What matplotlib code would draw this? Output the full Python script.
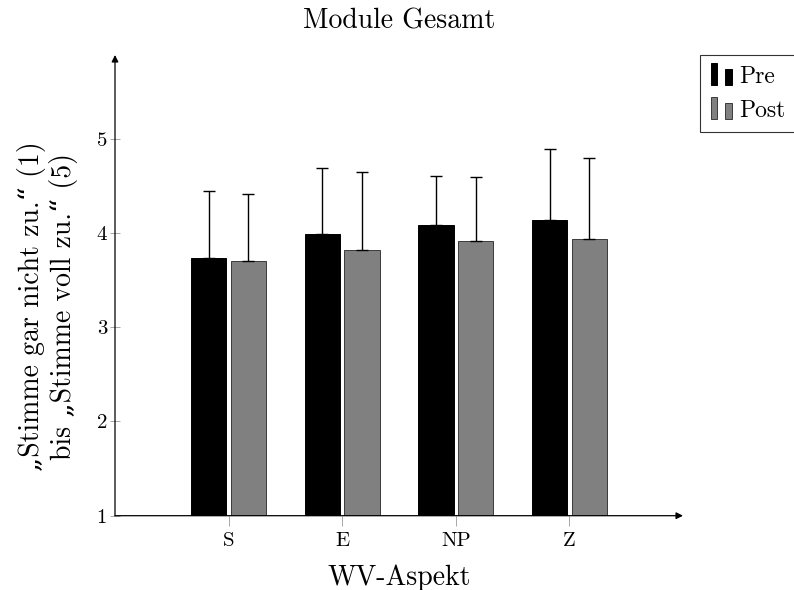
import numpy as np
import matplotlib
matplotlib.use("Agg")
import matplotlib.pyplot as plt
from matplotlib.patches import Rectangle
from matplotlib.legend_handler import HandlerBase

plt.rcParams["font.family"] = ["cmr10", "DejaVu Serif"]
plt.rcParams["axes.formatter.use_mathtext"] = True

categories = ["S", "E", "NP", "Z"]
pre_mean = [3.73, 3.99, 4.09, 4.14]
pre_err = [0.72, 0.70, 0.52, 0.75]
post_mean = [3.70, 3.82, 3.92, 3.94]
post_err = [0.71, 0.83, 0.67, 0.86]
yticks = [1, 2, 3, 4, 5]

pre_color = "black"
post_color = "#808080"


class TwoBarHandler(HandlerBase):
    # pgfplots style legend glyph: two small bars
    def create_artists(self, legend, orig_handle, xdescent, ydescent,
                       width, height, fontsize, trans):
        fc = orig_handle.get_facecolor()
        ec = orig_handle.get_edgecolor()
        w = width * 0.29
        y0 = -ydescent - 0.15 * height
        r1 = Rectangle((-xdescent, y0), w, height * 1.35,
                       facecolor=fc, edgecolor=ec, linewidth=0.7, transform=trans)
        r2 = Rectangle((-xdescent + width * 0.62, y0), w, height * 1.0,
                       facecolor=fc, edgecolor=ec, linewidth=0.7, transform=trans)
        return [r1, r2]


fig = plt.figure(figsize=(7.94, 5.9), dpi=100)
ax = fig.add_axes([115 / 794, 1 - 515.7 / 590, 568 / 794, 460.7 / 590])

x = np.arange(len(categories))
bw = 0.31
off = 0.175

err_kw = dict(ecolor="black", elinewidth=1.0, capsize=4, capthick=1.0)
b1 = ax.bar(x - off, np.array(pre_mean) - 1, bw, bottom=1, color=pre_color,
            edgecolor="black", linewidth=0.7, label="Pre",
            yerr=[np.zeros(4), pre_err], error_kw=err_kw)
b2 = ax.bar(x + off, np.array(post_mean) - 1, bw, bottom=1, color=post_color,
            edgecolor="#3a3a3a", linewidth=0.7, label="Post",
            yerr=[np.zeros(4), post_err], error_kw=err_kw)

ax.set_xlim(-1, 4)
ax.set_ylim(1, 5.89)
ax.set_xticks(x)
ax.set_xticklabels(categories)
ax.set_yticks(yticks)
ax.set_yticklabels([str(t) for t in yticks])

for s in ax.spines.values():
    s.set_visible(False)

ax.tick_params(axis="y", direction="inout", length=7.5, width=0.6, color="#999999",
               labelsize=15, pad=2)
ax.tick_params(axis="x", direction="out", length=7.5, width=0.6, color="#999999",
               labelsize=15, pad=4)

# axis arrows
arrow = dict(arrowstyle="-|>", color="black", lw=0.9, mutation_scale=10,
             shrinkA=0, shrinkB=0)
ax.annotate("", xy=(1, 0), xytext=(0, 0), xycoords="axes fraction",
            arrowprops=arrow, annotation_clip=False)
ax.annotate("", xy=(0, 1), xytext=(0, 0), xycoords="axes fraction",
            arrowprops=arrow, annotation_clip=False)

ax.set_title("Module Gesamt", fontsize=20, pad=19)
ax.set_xlabel("WV-Aspekt", fontsize=20, labelpad=11)
ax.set_ylabel("\u201eStimme gar nicht zu.\u201c (1)\nbis \u201eStimme voll zu.\u201c (5)",
              fontsize=20, linespacing=1.1)
ax.yaxis.set_label_coords(-0.066, 0.455)

leg = fig.legend(handles=[b1.patches[0], b2.patches[0]], labels=["Pre", "Post"],
                 handler_map={Rectangle: TwoBarHandler()},
                 loc="upper left", bbox_to_anchor=(700 / 794, 1 - 55 / 590),
                 fontsize=17, frameon=True, fancybox=False, edgecolor="black",
                 handlelength=1.0, handletextpad=0.2, borderpad=0.45,
                 labelspacing=0.5, borderaxespad=0)
leg.get_frame().set_linewidth(0.8)

fig.savefig("out.png", dpi=100)
